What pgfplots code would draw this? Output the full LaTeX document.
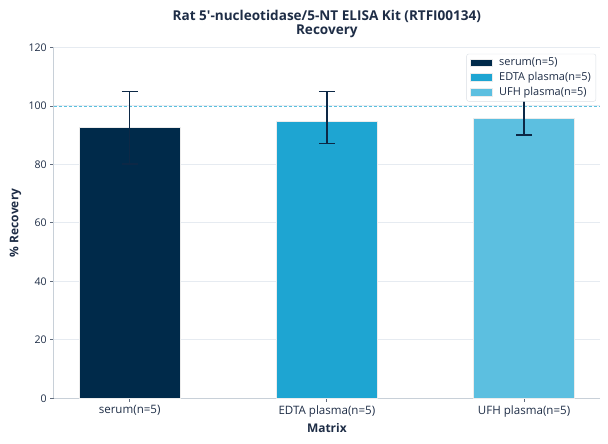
\documentclass[border=0pt]{standalone}
\usepackage{pgfplots}
\pgfplotsset{compat=1.18}
\usepackage{fontspec}
\setmainfont{Open Sans}
\definecolor{serumc}{RGB}{0,42,74}
\definecolor{edtac}{RGB}{30,165,210}
\definecolor{ufhc}{RGB}{92,191,224}
\definecolor{errc}{RGB}{12,40,70}
\definecolor{txtc}{RGB}{30,45,70}
\definecolor{gridc}{RGB}{230,235,241}
\definecolor{spinec}{RGB}{200,208,216}
\definecolor{refc}{RGB}{90,192,222}
\begin{document}
\begin{tikzpicture}[x=1bp,y=1bp]
\path[use as bounding box] (0,0) rectangle (608,444);
\begin{axis}[
  at={(53.7bp,45.7bp)}, anchor=south west,
  scale only axis, width=546.3bp, height=350.8bp,
  xmin=-0.385, xmax=2.385, ymin=0, ymax=120,
  ytick={0,20,...,120},
  xtick={0,1,2},
  xticklabels={serum(n=5),EDTA plasma(n=5),UFH plasma(n=5)},
  axis x line*=bottom, axis y line*=left,
  axis line style={spinec, line width=1bp},
  tick align=outside, major tick length=3.5bp,
  tick style={txtc!70, line width=0.8bp},
  ymajorgrids, grid style={gridc, line width=1bp},
  /pgf/number format/assume math mode=true,
  yticklabel style={font=\fontsize{10.6}{12}\selectfont, text=txtc},
  xticklabel style={font=\fontsize{11.6}{13}\selectfont, text=txtc},
  title={Rat 5\textquotesingle-nucleotidase/5-NT ELISA Kit (RTFI00134)\\Recovery},
  title style={at={(axis description cs:0.5,1)}, anchor=center, yshift=17.5bp, align=center,
    font=\fontsize{13.6}{15}\selectfont\bfseries, text=txtc},
  xlabel={Matrix},
  xlabel style={at={(axis description cs:0.5,-0.0855)}, anchor=center,
    font=\fontsize{12}{14}\selectfont\bfseries, text=txtc},
  ylabel={\% Recovery},
  ylabel style={at={(axis description cs:-0.0700,0.5)}, anchor=center,
    font=\fontsize{12}{14}\selectfont\bfseries, text=txtc},
  legend style={at={(rel axis cs:0.9927,0.982)}, anchor=north east,
    draw=spinec!70, rounded corners=2bp, fill=white,
    font=\fontsize{11}{12}\selectfont, text=txtc,
    row sep=1.2bp, inner xsep=3bp, inner ysep=2bp},
  legend cell align=left,
  legend image code/.code={\fill[#1, sharp corners] (0bp,-3.7bp) rectangle (22bp,3.7bp); \path (27bp,0bp);},
]
\addplot[refc, line width=0.8bp, dash pattern=on 3bp off 2bp, forget plot]
  coordinates {(-0.385,100) (2.385,100)};
\addplot[ybar, bar width=0.512, bar shift=0, fill=serumc, draw=white!85!gray, line width=0.5bp,
  error bars/.cd, y dir=both, y explicit, error mark=|,
  error bar style={errc, line width=1.5bp},
  error mark options={errc, line width=1.5bp, mark size=8bp}]
  coordinates {(0,92.6) +=(0,12.4) -=(0,12.4)};
\addlegendentry{serum(n=5)}
\addplot[ybar, bar width=0.512, bar shift=0, fill=edtac, draw=white!85!gray, line width=0.5bp,
  error bars/.cd, y dir=both, y explicit, error mark=|,
  error bar style={errc, line width=1.5bp},
  error mark options={errc, line width=1.5bp, mark size=8bp}]
  coordinates {(1,94.8) +=(0,10.2) -=(0,7.7)};
\addlegendentry{EDTA plasma(n=5)}
\addplot[ybar, bar width=0.512, bar shift=0, fill=ufhc, draw=white!85!gray, line width=0.5bp,
  error bars/.cd, y dir=both, y explicit, error mark=|,
  error bar style={errc, line width=1.5bp},
  error mark options={errc, line width=1.5bp, mark size=8bp}]
  coordinates {(2,95.7) +=(0,9.3) -=(0,5.7)};
\addlegendentry{UFH plasma(n=5)}
\end{axis}
\end{tikzpicture}
\end{document}
